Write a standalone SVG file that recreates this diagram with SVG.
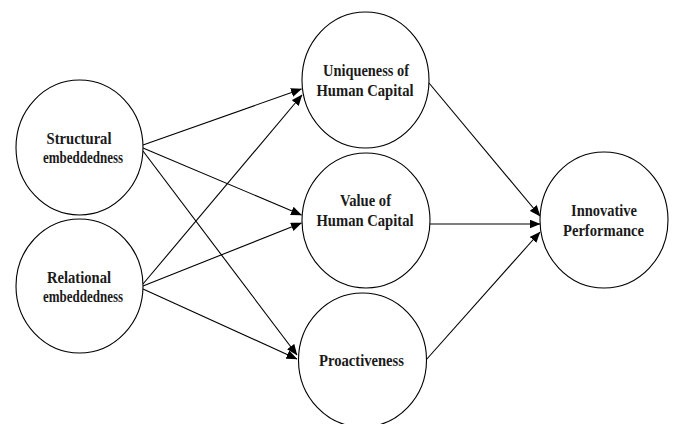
<svg xmlns="http://www.w3.org/2000/svg" width="673" height="424" viewBox="0 0 673 424">
<style>
.n{fill:#fff;stroke:#000;stroke-width:1.1}
.t{font-family:"Liberation Serif","Times New Roman",serif;font-weight:bold;font-size:16.5px;fill:#1a1a1a;text-anchor:middle}
.c{stroke:#000;stroke-width:1.1;fill:none;marker-end:url(#ah)}
</style>
<defs>
<marker id="ah" markerUnits="userSpaceOnUse" markerWidth="11" markerHeight="9" refX="10.5" refY="4.5" orient="auto" viewBox="0 0 11 9">
<path d="M0,0 L11,4.5 L0,9 z" fill="#000"/>
</marker>
</defs>
<rect width="673" height="424" fill="#fff"/>
<g id="connectors">
<line class="c" x1="143" y1="145" x2="301.5" y2="89"/>
<line class="c" x1="143" y1="148" x2="301.5" y2="215"/>
<line class="c" x1="143" y1="151" x2="297" y2="355"/>
<line class="c" x1="143" y1="284" x2="302" y2="95"/>
<line class="c" x1="143" y1="286" x2="301.5" y2="223"/>
<line class="c" x1="143" y1="289" x2="297" y2="359"/>
<line class="c" x1="429" y1="83" x2="540" y2="216"/>
<line class="c" x1="430" y1="224" x2="540" y2="224"/>
<line class="c" x1="426" y1="360" x2="540" y2="232"/>
</g>
<g id="structural">
<ellipse class="n" cx="79.5" cy="147.5" rx="63.5" ry="67.5"/>
<text class="t" x="79" y="144" textLength="65" lengthAdjust="spacingAndGlyphs">Structural</text>
<text class="t" x="83" y="163" textLength="80" lengthAdjust="spacingAndGlyphs">embeddedness</text>
</g>
<g id="relational">
<ellipse class="n" cx="79.5" cy="286" rx="63.5" ry="67"/>
<text class="t" x="79" y="283" textLength="64" lengthAdjust="spacingAndGlyphs">Relational</text>
<text class="t" x="83" y="302" textLength="80" lengthAdjust="spacingAndGlyphs">embeddedness</text>
</g>
<g id="uniqueness">
<ellipse class="n" cx="365.5" cy="80" rx="63.5" ry="68"/>
<text class="t" x="366" y="76" textLength="86" lengthAdjust="spacingAndGlyphs">Uniqueness of</text>
<text class="t" x="365" y="96" textLength="97" lengthAdjust="spacingAndGlyphs">Human Capital</text>
</g>
<g id="value">
<ellipse class="n" cx="366" cy="220.5" rx="64" ry="67.5"/>
<text class="t" x="365.5" y="206" textLength="51" lengthAdjust="spacingAndGlyphs">Value of</text>
<text class="t" x="365" y="226" textLength="97" lengthAdjust="spacingAndGlyphs">Human Capital</text>
</g>
<g id="proactiveness">
<ellipse class="n" cx="362.5" cy="360" rx="64" ry="67"/>
<text class="t" x="361.5" y="366" textLength="85" lengthAdjust="spacingAndGlyphs">Proactiveness</text>
</g>
<g id="innovative">
<ellipse class="n" cx="604" cy="220" rx="64" ry="68"/>
<text class="t" x="604" y="216" textLength="66" lengthAdjust="spacingAndGlyphs">Innovative</text>
<text class="t" x="603.5" y="236" textLength="81" lengthAdjust="spacingAndGlyphs">Performance</text>
</g>
</svg>
